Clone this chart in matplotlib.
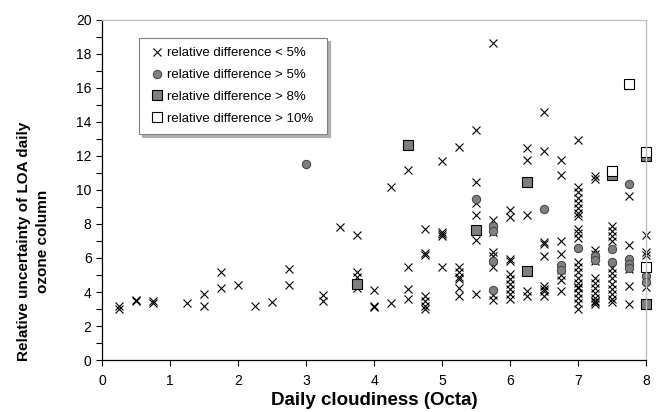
import matplotlib
matplotlib.use("Agg")
import matplotlib.pyplot as plt
from matplotlib.ticker import MultipleLocator

plt.rcParams['font.family'] = ['Liberation Sans', 'DejaVu Sans']

# relative difference < 5%  (crosses)
cloud_lt5 = [0.25, 0.25, 0.5, 0.5, 0.75, 0.75, 1.25, 1.5, 1.5, 1.75, 1.75, 2.0, 2.25, 2.5,
             2.75, 2.75, 3.25, 3.25, 3.5, 3.75, 3.75, 3.75, 3.75, 4.0, 4.0, 4.0,
             4.25, 4.25, 4.5, 4.5, 4.5, 4.5,
             4.75, 4.75, 4.75, 4.75, 4.75, 4.75, 4.75,
             5.0, 5.0, 5.0, 5.0, 5.0,
             5.25, 5.25, 5.25, 5.25, 5.25, 5.25, 5.25,
             5.5, 5.5, 5.5, 5.5, 5.5, 5.5,
             5.75, 5.75, 5.75, 5.75, 5.75, 5.75, 5.75, 5.75,
             6.0, 6.0, 6.0, 6.0, 6.0, 6.0, 6.0, 6.0, 6.0, 6.0,
             6.25, 6.25, 6.25, 6.25, 6.25,
             6.5, 6.5, 6.5, 6.5, 6.5, 6.5, 6.5, 6.5, 6.5,
             6.75, 6.75, 6.75, 6.75, 6.75, 6.75, 6.75, 6.75,
             7.0, 7.0, 7.0, 7.0, 7.0, 7.0, 7.0, 7.0, 7.0, 7.0, 7.0,
             7.0, 7.0, 7.0, 7.0, 7.0, 7.0, 7.0, 7.0, 7.0, 7.0, 7.0,
             7.25, 7.25, 7.25, 7.25, 7.25, 7.25, 7.25, 7.25, 7.25, 7.25, 7.25, 7.25, 7.25,
             7.5, 7.5, 7.5, 7.5, 7.5, 7.5, 7.5, 7.5, 7.5, 7.5, 7.5, 7.5,
             7.75, 7.75, 7.75, 7.75, 7.75,
             8.0, 8.0, 8.0, 8.0, 8.0]
unc_lt5 = [3.2, 3.0, 3.55, 3.45, 3.45, 3.35, 3.35, 3.9, 3.2, 5.2, 4.25, 4.4, 3.2, 3.4,
           5.35, 4.4, 3.85, 3.5, 7.8, 7.35, 5.15, 4.9, 4.25, 4.1, 3.15, 3.1,
           10.2, 3.35, 11.15, 5.45, 4.2, 3.6,
           7.7, 6.3, 6.15, 3.75, 3.45, 3.2, 3.0,
           11.7, 7.5, 7.4, 7.3, 5.45,
           12.5, 5.5, 5.2, 4.9, 4.75, 4.25, 3.75,
           13.5, 10.45, 9.25, 8.5, 7.05, 3.9,
           18.65, 8.25, 7.55, 6.35, 6.1, 5.45, 3.8, 3.55,
           8.8, 8.4, 5.95, 5.85, 5.05, 4.75, 4.45, 4.2, 3.9, 3.6,
           12.45, 11.75, 8.5, 4.05, 3.75,
           14.6, 12.3, 6.95, 6.8, 6.1, 4.35, 4.2, 4.05, 3.75,
           11.75, 10.85, 7.0, 6.25, 5.3, 5.0, 4.7, 4.05,
           12.95, 10.15, 9.85, 9.55, 9.25, 8.95, 8.65, 8.45, 7.7, 7.45, 7.2,
           5.75, 5.45, 5.15, 4.85, 4.55, 4.3, 4.25, 3.95, 3.65, 3.35, 3.0,
           10.8, 10.65, 6.45, 6.25, 5.8, 4.85, 4.55, 4.25, 3.95, 3.65, 3.5, 3.4, 3.3,
           7.9, 7.6, 7.3, 7.0, 5.4, 5.1, 4.8, 4.5, 4.2, 3.9, 3.6, 3.4,
           9.65, 6.75, 5.35, 4.35, 3.3,
           7.35, 6.35, 6.2, 4.8, 4.3]

# relative difference > 5%  (grey circles)
cloud_gt5 = [3.0, 5.5, 5.75, 5.75, 5.75, 5.75, 6.5, 6.75, 6.75, 7.0, 7.25, 7.25,
             7.5, 7.5, 7.75, 7.75, 7.75, 7.75, 8.0, 8.0]
unc_gt5 = [11.55, 9.45, 7.9, 7.6, 5.8, 4.1, 8.9, 5.6, 5.3, 6.6, 6.1, 5.9,
           6.5, 5.75, 10.35, 5.95, 5.65, 5.4, 4.95, 4.6]

# relative difference > 8%  (grey squares)
cloud_gt8 = [3.75, 4.5, 5.5, 6.25, 6.25, 7.5, 8.0, 8.0]
unc_gt8 = [4.45, 12.65, 7.65, 10.45, 5.25, 10.9, 12.0, 3.3]

# relative difference > 10%  (open squares)
cloud_gt10 = [7.5, 7.75, 8.0, 8.0]
unc_gt10 = [11.1, 16.2, 12.2, 5.5]

fig = plt.figure(figsize=(6.58, 4.12), dpi=100)
ax = fig.add_axes([0.155, 0.126, 0.827, 0.826])

ax.plot(cloud_lt5, unc_lt5, 'x', color='black', markersize=6, markeredgewidth=0.8,
        linestyle='none', label='relative difference < 5%', clip_on=False)
ax.plot(cloud_gt5, unc_gt5, 'o', color='#808080', markeredgecolor='#404040', markersize=6,
        markeredgewidth=0.7, linestyle='none', label='relative difference > 5%', clip_on=False)
ax.plot(cloud_gt8, unc_gt8, 's', color='#7f7f7f', markeredgecolor='black', markersize=7.5,
        markeredgewidth=0.8, linestyle='none', label='relative difference > 8%', clip_on=False)
ax.plot(cloud_gt10, unc_gt10, 's', color='white', markeredgecolor='black', markersize=7.5,
        markeredgewidth=0.8, linestyle='none', label='relative difference > 10%', clip_on=False)

ax.set_xlim(0, 8)
ax.set_ylim(0, 20)
ax.xaxis.set_major_locator(MultipleLocator(1))
ax.yaxis.set_major_locator(MultipleLocator(2))
ax.yaxis.set_minor_locator(MultipleLocator(1))
ax.tick_params(axis='both', which='both', direction='out', length=4, width=0.8,
               labelsize=10, color='black')
ax.tick_params(axis='x', pad=6)

for side in ['left', 'bottom']:
    ax.spines[side].set_color('black')
    ax.spines[side].set_linewidth(0.9)
for side in ['top', 'right']:
    ax.spines[side].set_color('#c0c0c0')
    ax.spines[side].set_linewidth(1.0)

ax.set_xlabel('Daily cloudiness (Octa)', fontsize=13.5, fontweight='bold', va='center')
ax.set_ylabel('Relative uncertainty of LOA daily\nozone column', fontsize=11,
              fontweight='bold', linespacing=1.45, va='center')
ax.xaxis.set_label_coords(0.5, -0.118)
ax.yaxis.set_label_coords(-0.125, 0.35)

leg = ax.legend(loc='upper left', bbox_to_anchor=(0.068, 0.947, 0.3456, 0.0),
                mode='expand', borderaxespad=0,
                fontsize=9.5, frameon=True, fancybox=False, handletextpad=0.02,
                handlelength=1.4, labelspacing=0.73, borderpad=0.7,
                shadow={'color': '#b0b0b0', 'alpha': 1.0})
leg.get_frame().set_edgecolor('#808080')
leg.get_frame().set_linewidth(0.8)

fig.savefig('out.png', dpi=100)
